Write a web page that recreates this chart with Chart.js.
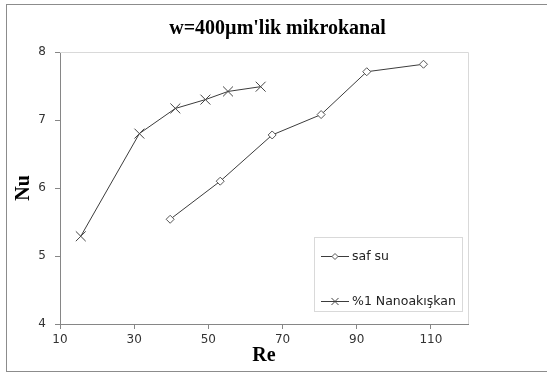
<!DOCTYPE html>
<html>
<head>
<meta charset="utf-8">
<script src="https://cdn.jsdelivr.net/npm/chart.js@4.4.0/dist/chart.umd.min.js"></script>
<style>
  html, body { margin: 0; padding: 0; background: #fff; }
  #wrap { width: 547px; height: 374px; }
</style>
</head>
<body>
<div id="wrap"><canvas id="nuChart" width="547" height="374"></canvas></div>
<script>
// Re / Nu values for each fluid
const reTicks = [10, 30, 50, 70, 90, 110];
const nuTicks = [4, 5, 6, 7, 8];

const seriesNames = ['saf su', '%1 Nanoakışkan'];

const safSuRe = [39.7, 53.2, 67.2, 80.4, 92.7, 108.0];
const safSuNu = [5.54, 6.10, 6.78, 7.08, 7.71, 7.82];

const nanoRe = [15.6, 31.4, 41.1, 49.2, 55.3, 64.1];
const nanoNu = [5.29, 6.80, 7.17, 7.30, 7.42, 7.49];

const toPoints = (xs, ys) => xs.map((x, i) => ({ x: x, y: ys[i] }));

const tickFont = { family: 'DejaVu Sans', size: 12 };
const titleFont = { family: 'Liberation Serif', size: 20, weight: 'bold' };

// outer frame plus light top/right edges of the plot area
const framePlugin = {
    id: 'frame',
    beforeDatasetsDraw(chart) {
        const { ctx, chartArea } = chart;
        ctx.save();
        ctx.lineWidth = 1;
        ctx.strokeStyle = '#d9d9d9';
        ctx.beginPath();
        ctx.moveTo(chartArea.left, chartArea.top + 0.5);
        ctx.lineTo(chartArea.right + 0.5, chartArea.top + 0.5);
        ctx.lineTo(chartArea.right + 0.5, chartArea.bottom);
        ctx.stroke();
        ctx.strokeStyle = '#8c8c8c';
        ctx.strokeRect(6.5, 4.5, 560, 367);
        ctx.restore();
    }
};

// legend box in the lower right of the plot area
const legendRadius = [3, 5];
const boxLegend = {
    id: 'boxLegend',
    afterDraw(chart) {
        const { ctx, chartArea } = chart;
        const right = chartArea.right - 6;
        const bottom = chartArea.bottom - 13;
        const w = 148, h = 74;
        const left = right - w, top = bottom - h;
        ctx.save();
        ctx.strokeStyle = '#d9d9d9';
        ctx.lineWidth = 1;
        ctx.strokeRect(Math.round(left) + 0.5, Math.round(top) + 0.5, w, h);

        chart.data.datasets.forEach((ds, i) => {
            const y = Math.round(top + 19 + i * 45) + 0.5;
            const x0 = left + 7, x1 = left + 35;
            ctx.strokeStyle = ds.borderColor;
            ctx.lineWidth = ds.borderWidth;
            ctx.beginPath();
            ctx.moveTo(x0, y);
            ctx.lineTo(x1, y);
            ctx.stroke();
            ctx.fillStyle = ds.pointBackgroundColor;
            ctx.strokeStyle = ds.pointBorderColor;
            ctx.lineWidth = ds.pointBorderWidth;
            Chart.helpers.drawPoint(ctx, {
                pointStyle: ds.pointStyle,
                rotation: 0,
                radius: legendRadius[i],
                borderWidth: ds.pointBorderWidth
            }, (x0 + x1) / 2, y);
            ctx.fillStyle = '#222';
            ctx.font = '12.5px "DejaVu Sans"';
            ctx.textBaseline = 'middle';
            ctx.fillText(ds.label, x1 + 3, y);
        });
        ctx.restore();
    }
};

new Chart(document.getElementById('nuChart'), {
    type: 'scatter',
    data: {
        datasets: [
            {
                label: seriesNames[0],
                data: toPoints(safSuRe, safSuNu),
                showLine: true,
                borderColor: '#3c3c3c',
                borderWidth: 1,
                pointStyle: 'rectRot',
                pointRadius: 4,
                pointBackgroundColor: '#ffffff',
                pointBorderColor: '#555555',
                pointBorderWidth: 1
            },
            {
                label: seriesNames[1],
                data: toPoints(nanoRe, nanoNu),
                showLine: true,
                borderColor: '#3c3c3c',
                borderWidth: 1,
                pointStyle: 'crossRot',
                pointRadius: 7,
                pointBackgroundColor: '#ffffff',
                pointBorderColor: '#444444',
                pointBorderWidth: 1
            }
        ]
    },
    options: {
        responsive: false,
        animation: false,
        devicePixelRatio: 1,
        layout: { padding: { left: 8, right: 0, top: 0, bottom: 6 } },
        plugins: {
            legend: { display: false },
            tooltip: { enabled: false },
            title: {
                display: true,
                text: "w=400µm'lik mikrokanal",
                color: '#000',
                font: titleFont,
                padding: { top: 17, bottom: 11 }
            }
        },
        scales: {
            x: {
                type: 'linear',
                min: 10,
                max: 120,
                afterBuildTicks: scale => { scale.ticks = reTicks.map(v => ({ value: v })); },
                afterFit: scale => { scale.height = 44; },
                grid: { drawOnChartArea: false, drawTicks: true, tickLength: 5, color: '#868686' },
                border: { color: '#868686' },
                ticks: { font: tickFont, color: '#333', padding: 4, maxRotation: 0 },
                title: { display: true, text: 'Re', color: '#000', font: titleFont, padding: 0 }
            },
            y: {
                type: 'linear',
                min: 4,
                max: 8,
                afterBuildTicks: scale => { scale.ticks = nuTicks.map(v => ({ value: v })); },
                afterFit: scale => { scale.width = 52; },
                grid: { drawOnChartArea: false, drawTicks: true, tickLength: 5, color: '#868686' },
                border: { color: '#868686' },
                ticks: { font: tickFont, color: '#333', padding: 9 },
                title: { display: true, text: 'Nu', color: '#000', font: titleFont, padding: 4 }
            },
            // empty right-hand margin so the title centres on the full width
            yPad: {
                type: 'linear',
                position: 'right',
                display: true,
                afterFit: scale => { scale.width = 79; },
                grid: { display: false },
                border: { display: false },
                ticks: { display: false }
            }
        }
    },
    plugins: [framePlugin, boxLegend]
});
</script>
</body>
</html>
